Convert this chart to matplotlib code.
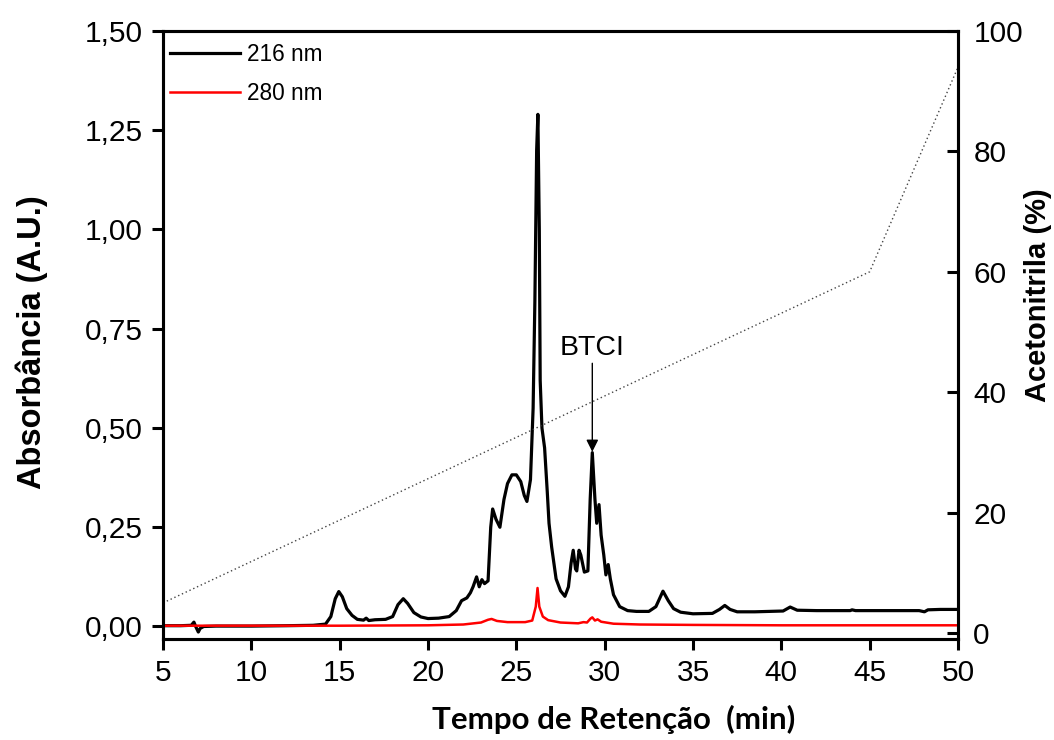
import matplotlib
matplotlib.use("Agg")
import matplotlib.pyplot as plt
from matplotlib.ticker import FuncFormatter

# 216 nm trace (min, A.U.)
t216 = [5.0, 6.0, 6.6, 6.75, 6.85, 7.0, 7.1, 7.3, 8.0, 10.0, 12.0, 13.5, 14.2, 14.5,
        14.75, 14.95, 15.15, 15.4, 15.7, 16.0, 16.35, 16.5, 16.65, 17.0, 17.6, 18.0,
        18.3, 18.6, 18.85, 19.2, 19.6, 20.0, 20.6, 21.2, 21.6, 21.9, 22.2, 22.4, 22.55,
        22.75, 22.9, 23.05, 23.2, 23.4, 23.55, 23.66, 23.85, 24.07, 24.3, 24.5, 24.75,
        25.0, 25.25, 25.45, 25.6, 25.8, 25.95, 26.05, 26.15, 26.22, 26.3, 26.35, 26.45,
        26.6, 26.75, 26.85, 27.0, 27.25, 27.5, 27.75, 27.95, 28.1, 28.22, 28.35, 28.42,
        28.55, 28.65, 28.85, 29.05, 29.18, 29.3, 29.45, 29.55, 29.68, 29.8, 29.95, 30.07,
        30.2, 30.32, 30.5, 30.85, 31.3, 31.8, 32.5, 32.9, 33.3, 33.6, 33.9, 34.3, 35.0,
        36.1, 36.5, 36.8, 37.1, 37.5, 38.5, 40.1, 40.5, 40.9, 42.0, 43.9, 44.0, 44.2,
        46.0, 47.8, 48.1, 48.3, 49.0, 50.0]
a216 = [0.002, 0.002, 0.003, 0.011, 0.000, -0.014, -0.005, 0.000, 0.001, 0.001, 0.002,
        0.003, 0.006, 0.025, 0.070, 0.088, 0.075, 0.045, 0.028, 0.018, 0.016, 0.021,
        0.015, 0.017, 0.018, 0.025, 0.055, 0.070, 0.058, 0.035, 0.024, 0.020, 0.021,
        0.025, 0.040, 0.065, 0.072, 0.085, 0.100, 0.125, 0.100, 0.118, 0.108, 0.115,
        0.250, 0.296, 0.270, 0.250, 0.320, 0.360, 0.382, 0.382, 0.365, 0.330, 0.315,
        0.370, 0.550, 0.820, 1.200, 1.290, 1.000, 0.620, 0.500, 0.450, 0.340, 0.260,
        0.200, 0.120, 0.090, 0.076, 0.100, 0.160, 0.192, 0.145, 0.140, 0.192, 0.180,
        0.137, 0.140, 0.320, 0.438, 0.320, 0.260, 0.307, 0.230, 0.180, 0.130, 0.156,
        0.120, 0.080, 0.050, 0.040, 0.038, 0.038, 0.050, 0.089, 0.065, 0.045, 0.036,
        0.032, 0.033, 0.043, 0.053, 0.043, 0.037, 0.037, 0.039, 0.049, 0.041, 0.040,
        0.040, 0.042, 0.040, 0.040, 0.040, 0.037, 0.042, 0.043, 0.043]

# 280 nm trace
t280 = [5.0, 15.0, 20.0, 22.0, 23.0, 23.4, 23.6, 23.9, 24.5, 25.5, 25.9, 26.1, 26.2,
        26.3, 26.5, 26.8, 27.5, 28.5, 28.8, 29.0, 29.2, 29.3, 29.45, 29.6, 29.8, 30.5,
        32.0, 35.0, 40.0, 50.0]
a280 = [0.002, 0.002, 0.003, 0.005, 0.010, 0.017, 0.019, 0.014, 0.011, 0.011, 0.015,
        0.050, 0.097, 0.050, 0.025, 0.016, 0.010, 0.008, 0.011, 0.010, 0.020, 0.023,
        0.015, 0.018, 0.012, 0.007, 0.005, 0.004, 0.003, 0.003]

# acetonitrile gradient (%)
t_grad = [5.0, 45.0, 50.0]
acn = [5.0, 60.0, 94.0]

btci_x, btci_y = 29.3, 0.44

ARIAL = ["Liberation Sans", "DejaVu Sans"]

fig = plt.figure(figsize=(10.54, 7.40), dpi=100)
ax = fig.add_axes([163 / 1054, 101 / 740, 795 / 1054, 608 / 740])
ax2 = ax.twinx()

ax.plot(t216, a216, color="black", lw=2.3, label="216 nm", zorder=3)
ax.plot(t280, a280, color="red", lw=1.8, label="280 nm", zorder=3)
ax2.plot(t_grad, acn, color="#444444", lw=1.0, ls=(0, (1, 2)))

ax.set_xlim(5, 50)
ax.set_ylim(-0.0315, 1.5)
ax2.set_ylim(-1, 100)
ax.set_xticks(range(5, 51, 5))
ax.set_yticks([0, 0.25, 0.5, 0.75, 1.0, 1.25, 1.5])
ax2.set_yticks(range(0, 101, 20))
ax.yaxis.set_major_formatter(FuncFormatter(lambda v, p: f"{v:.2f}".replace(".", ",")))

for a in (ax, ax2):
    for s in a.spines.values():
        s.set_linewidth(2.2)
    for lab in a.get_xticklabels() + a.get_yticklabels():
        lab.set_fontfamily(ARIAL)
        lab.set_fontsize(21.5)
ax.tick_params(axis="both", direction="out", length=8, width=2.2, pad=6.5)
ax.tick_params(axis="x", top=False)
ax2.tick_params(axis="y", direction="in", length=8, width=2.2, pad=11)

ax.annotate("BTCI", xy=(btci_x, btci_y), xytext=(btci_x, 0.67),
            ha="center", va="bottom", fontsize=20.5, family=ARIAL,
            arrowprops=dict(arrowstyle="-|>", color="black", lw=1.0,
                            mutation_scale=18, shrinkA=0, shrinkB=0))

ax.legend(loc="upper left", bbox_to_anchor=(0.0, 0.992), frameon=False,
          prop={"family": ARIAL, "size": 16.3},
          handlelength=3.1, handletextpad=0.3, labelspacing=0.72,
          borderaxespad=0.0, borderpad=0.3)

fig.text(614 / 1054, 1 - 719 / 740, "Tempo de Retenção  (min)", ha="center", va="center",
         fontsize=22.5, fontweight="bold", family="Lato")
fig.text(32 / 1054, 1 - 342 / 740, "Absorbância (A.U.)", ha="center", va="center",
         rotation=90, fontsize=23.5, fontweight="bold", family=ARIAL)
fig.text(1038 / 1054, 1 - 295 / 740, "Acetonitrila (%)", ha="center", va="center",
         rotation=90, fontsize=21, fontweight="bold", family=ARIAL)

fig.savefig("out.png", dpi=100)
